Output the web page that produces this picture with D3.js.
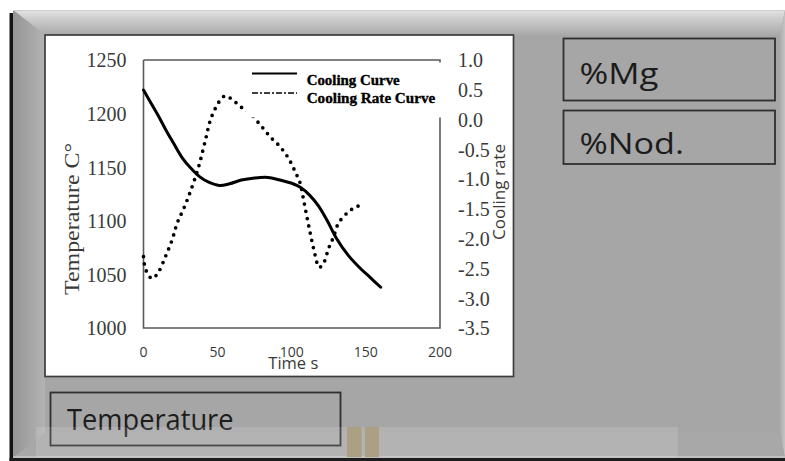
<!DOCTYPE html>
<html>
<head>
<meta charset="utf-8">
<script src="https://cdn.jsdelivr.net/npm/d3@7"></script>
<style>
  body { margin: 0; background: #fff; }
  svg { display: block; }
</style>
</head>
<body>
<svg id="panel" width="785" height="461"></svg>
<script>
// ---- data ----
const timeTicks = [0, 50, 100, 150, 200];
const tempTicks = [1000, 1050, 1100, 1150, 1200, 1250];
const rateTicks = [-3.5, -3.0, -2.5, -2.0, -1.5, -1.0, -0.5, 0.0, 0.5, 1.0];

// cooling curve: time (s) vs temperature (°C)
const coolingTime = [0, 5, 10, 15, 20, 26, 32, 38, 44, 51, 58, 66, 75, 84, 92, 100, 106, 112, 118, 124, 130, 138, 146, 153, 160];
const coolingTemp = [1222, 1210, 1198, 1185, 1173, 1159, 1149, 1141, 1136, 1133, 1134.5, 1138, 1140, 1140.5, 1138, 1135, 1131, 1124, 1114, 1100, 1084, 1068, 1056, 1047, 1038];

// cooling rate curve: time (s) vs rate
const rateTime  = [0, 1.5, 5.8, 10.3, 14.8, 19.3, 22.7, 27.2, 31.6, 37.2, 41.8, 45.1, 48.5, 51.9, 55.2, 59.7, 65.3, 72, 78.8, 85.5, 92.3, 97.8, 102.4, 105.7, 108, 110.2, 112.5, 114.7, 118.6, 121.5, 124.9, 128.2, 131.5, 138.2, 143.9, 149.5];
const rateValue = [-2.30, -2.52, -2.67, -2.55, -2.30, -2.02, -1.74, -1.49, -1.21, -0.79, -0.34, -0.01, 0.19, 0.33, 0.40, 0.34, 0.22, 0.10, -0.09, -0.29, -0.46, -0.65, -0.88, -1.07, -1.35, -1.63, -1.91, -2.16, -2.48, -2.41, -2.16, -1.97, -1.74, -1.55, -1.46, -1.42];

const legendLabels = ["Cooling Curve", "Cooling Rate Curve"];
const boxLabels = ["%Mg", "%Nod.", "Temperature"];

const svg = d3.select("#panel");
const defs = svg.append("defs");

// ---- bevelled frame ----
const gTop = defs.append("linearGradient").attr("id", "gTop").attr("x1", 0).attr("y1", 0).attr("x2", 0).attr("y2", 1);
gTop.append("stop").attr("offset", 0).attr("stop-color", "#e4e4e4");
gTop.append("stop").attr("offset", 0.35).attr("stop-color", "#cdcdcd");
gTop.append("stop").attr("offset", 1).attr("stop-color", "#a9a9a9");
const gLeft = defs.append("linearGradient").attr("id", "gLeft").attr("x1", 0).attr("y1", 0).attr("x2", 1).attr("y2", 0);
gLeft.append("stop").attr("offset", 0).attr("stop-color", "#959595");
gLeft.append("stop").attr("offset", 1).attr("stop-color", "#b3b3b3");
const gRight = defs.append("linearGradient").attr("id", "gRight").attr("x1", 0).attr("y1", 0).attr("x2", 1).attr("y2", 0);
gRight.append("stop").attr("offset", 0).attr("stop-color", "#acacac");
gRight.append("stop").attr("offset", 1).attr("stop-color", "#c4c4c4");

const frame = svg.append("g");
frame.append("rect").attr("x", 13).attr("y", 10).attr("width", 772).attr("height", 448).attr("fill", "#a6a6a6");
const poly = pts => pts.map(p => p.join(",")).join(" ");
frame.append("polygon").attr("points", poly([[13,10],[785,10],[780,35],[45,35]])).attr("fill", "url(#gTop)");
frame.append("polygon").attr("points", poly([[13,10],[45,35],[45,433],[13,458]])).attr("fill", "url(#gLeft)");
frame.append("polygon").attr("points", poly([[785,10],[785,458],[780,433],[780,35]])).attr("fill", "url(#gRight)");
frame.append("polygon").attr("points", poly([[13,458],[785,458],[780,433],[45,433]])).attr("fill", "#a8a8a8");
frame.append("line").attr("x1", 13).attr("x2", 785).attr("y1", 10.5).attr("y2", 10.5).attr("stroke", "#d0d0d0");
frame.append("rect").attr("x", 9.5).attr("y", 13).attr("width", 3.5).attr("height", 448).attr("fill", "#141414");
frame.append("line").attr("x1", 13).attr("x2", 785).attr("y1", 457).attr("y2", 457).attr("stroke", "#d6d6d6").attr("stroke-width", 1.2);
frame.append("rect").attr("x", 9.5).attr("y", 458).attr("width", 776).attr("height", 3).attr("fill", "#1c1c1c");

// ---- value boxes ----
const boxes = [
  {x: 563.5, y: 38.5, w: 211.5, h: 62, tx: 579.5, ty: 84, len: 79},
  {x: 563.5, y: 110.5, w: 211.5, h: 53.5, tx: 579.5, ty: 154, len: 104.5},
  {x: 50.5, y: 392.5, w: 290, h: 53, tx: 67, ty: 430, len: 166.5}
];
const boxG = svg.append("g");
boxG.selectAll("rect").data(boxes).join("rect")
  .attr("x", d => d.x).attr("y", d => d.y).attr("width", d => d.w).attr("height", d => d.h)
  .attr("fill", "none").attr("stroke", "#2f2f2f").attr("stroke-width", 1.8);
boxG.selectAll("text").data(boxes).join("text")
  .attr("x", d => d.tx).attr("y", d => d.ty)
  .attr("font-family", "'Open Sans', 'Noto Sans', sans-serif").attr("font-size", 30)
  .attr("fill", "#1c1c1c")
  .attr("textLength", d => d.len).attr("lengthAdjust", "spacingAndGlyphs")
  .text((d, i) => boxLabels[i]);

// translucent strip along the bottom edge
svg.append("rect").attr("x", 36).attr("y", 427).attr("width", 642).attr("height", 30)
  .attr("fill", "#ffffff").attr("opacity", 0.13);
svg.append("rect").attr("x", 347).attr("y", 427).attr("width", 14.5).attr("height", 30).attr("fill", "#ab9f84");
svg.append("rect").attr("x", 365).attr("y", 427).attr("width", 14).attr("height", 30).attr("fill", "#ab9f84");

// ---- chart panel ----
svg.append("rect").attr("x", 45).attr("y", 35).attr("width", 468.5).attr("height", 341.5)
  .attr("fill", "#fff").attr("stroke", "#3c3c3c").attr("stroke-width", 1.7);

const x  = d3.scaleLinear().domain([0, 200]).range([143.5, 440]);
const yT = d3.scaleLinear().domain([1000, 1250]).range([328, 60]);
const yR = d3.scaleLinear().domain([-3.5, 1.0]).range([328, 60]);

const chart = svg.append("g");

// frame of the plot area
const [x0, x1] = x.range();
const [yb, yt] = yT.range();
chart.append("path")
  .attr("d", `M${x0},${yt}V${yb}H${x1}V${yt}H${x0}`)
  .attr("fill", "none").attr("stroke", "#5a5a5a").attr("stroke-width", 1.6);

// left axis (temperature)
const leftAxis = d3.axisLeft(yT).tickValues(tempTicks).tickSize(0).tickPadding(17).tickFormat(d3.format("d"));
const gl = chart.append("g").attr("transform", `translate(${x0},0)`).call(leftAxis);
gl.select(".domain").remove();
gl.selectAll("text").attr("font-family", "'Liberation Serif', 'Times New Roman', serif")
  .attr("font-size", 20).attr("fill", "#3a3a3a").attr("dy", "0.34em");

// right axis (cooling rate)
const rightAxis = d3.axisRight(yR).tickValues(rateTicks).tickSize(0).tickPadding(18).tickFormat(d3.format(".1f"));
const gr = chart.append("g").attr("transform", `translate(${x1},0)`).call(rightAxis);
gr.select(".domain").remove();
gr.selectAll("text").attr("font-family", "'Liberation Serif', 'Times New Roman', serif")
  .attr("font-size", 20).attr("fill", "#3a3a3a").attr("dy", "0.34em")
  .text(d => d3.format(".1f")(d).replace("−", "-"));

// bottom axis (time)
chart.append("g").selectAll("text").data(timeTicks).join("text")
  .attr("x", d => x(d)).attr("y", 356.5).attr("text-anchor", "middle")
  .attr("font-family", "'Open Sans', 'Noto Sans', sans-serif").attr("font-size", 14)
  .attr("fill", "#3a3a3a").text(d => d);

// axis titles
chart.append("text").attr("x", 293.3).attr("y", 369).attr("text-anchor", "middle")
  .attr("font-family", "'Open Sans', 'Noto Sans', sans-serif").attr("font-size", 16)
  .attr("fill", "#3a3a3a").attr("textLength", 50).attr("lengthAdjust", "spacingAndGlyphs")
  .text("Time s");
chart.append("text").attr("transform", "translate(79.3,219) rotate(-90)").attr("text-anchor", "middle")
  .attr("font-family", "'Liberation Serif', 'Times New Roman', serif").attr("font-size", 20)
  .attr("fill", "#3a3a3a").attr("textLength", 152).attr("lengthAdjust", "spacingAndGlyphs")
  .text("Temperature C°");
chart.append("text").attr("transform", "translate(505,192) rotate(-90)").attr("text-anchor", "middle")
  .attr("font-family", "'Open Sans', 'Noto Sans', sans-serif").attr("font-size", 16)
  .attr("fill", "#3a3a3a").attr("textLength", 96).attr("lengthAdjust", "spacingAndGlyphs")
  .text("Cooling rate");

// curves
const cooling = coolingTime.map((t, i) => [t, coolingTemp[i]]);
const rate = rateTime.map((t, i) => [t, rateValue[i]]);

chart.append("path").datum(rate)
  .attr("d", d3.line().x(d => x(d[0])).y(d => yR(d[1])).curve(d3.curveCatmullRom.alpha(0.5)))
  .attr("fill", "none").attr("stroke", "#000").attr("stroke-width", 3.7)
  .attr("stroke-linecap", "round").attr("stroke-dasharray", "0 7.4");

chart.append("path").datum(cooling)
  .attr("d", d3.line().x(d => x(d[0])).y(d => yT(d[1])).curve(d3.curveCatmullRom.alpha(0.5)))
  .attr("fill", "none").attr("stroke", "#000").attr("stroke-width", 3)
  .attr("stroke-linecap", "round").attr("stroke-linejoin", "round");

// legend
const legend = chart.append("g");
legend.append("rect").attr("x", 246).attr("y", 62.5).attr("width", 200).attr("height", 55).attr("fill", "#fff");
const legendRows = [{y: 73.5, ty: 84.5, dash: null, w: 2.2, len: 93},
                    {y: 93, ty: 103, dash: "6 2 2 2", w: 1.5, len: 128.5}];
legend.selectAll("line").data(legendRows).join("line")
  .attr("x1", 252).attr("x2", 297).attr("y1", d => d.y).attr("y2", d => d.y)
  .attr("stroke", "#000").attr("stroke-width", d => d.w)
  .attr("stroke-dasharray", d => d.dash);
legend.selectAll("text").data(legendRows).join("text")
  .attr("x", 306.7).attr("y", d => d.ty)
  .attr("font-family", "'Liberation Serif', 'Times New Roman', serif").attr("font-weight", "bold")
  .attr("font-size", 14.5).attr("fill", "#000").attr("stroke", "#000").attr("stroke-width", 0.35)
  .attr("textLength", d => d.len).attr("lengthAdjust", "spacingAndGlyphs")
  .text((d, i) => legendLabels[i]);
</script>
</body>
</html>
